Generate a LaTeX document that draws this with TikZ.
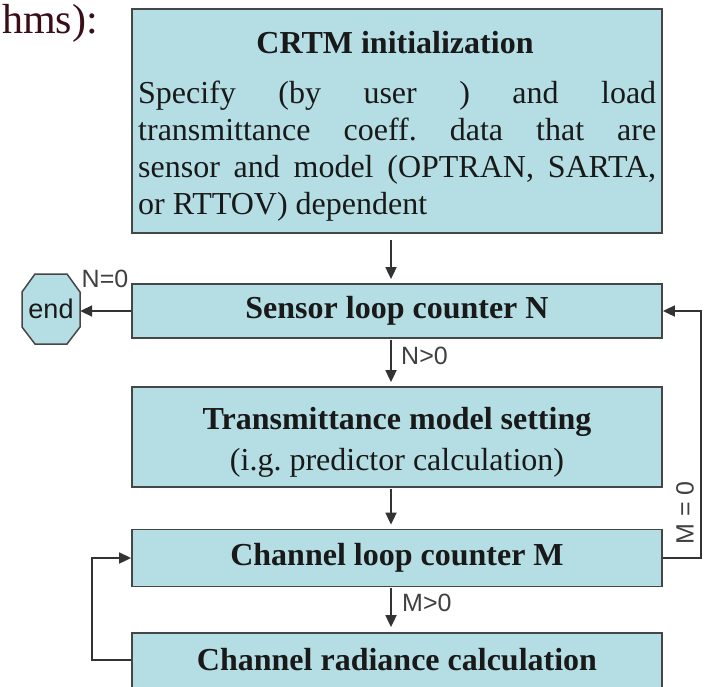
\documentclass[tikz,border=0pt]{standalone}
\usepackage{fontspec}
\setmainfont{Liberation Serif}
\setsansfont{Liberation Sans}
\newfontfamily\timesfam{Liberation Serif}
\usetikzlibrary{arrows.meta}
\definecolor{boxfill}{RGB}{180,222,228}
\definecolor{boxline}{RGB}{70,70,70}
\definecolor{hmscol}{RGB}{58,14,24}
\frenchspacing
\begin{document}
\begin{tikzpicture}[x=1pt,y=-1pt,
  box/.style={draw=boxline, line width=1.8pt, fill=boxfill, inner sep=0pt, text=black!90},
  arr/.style={draw=black!80, line width=1.8pt, -{Triangle[length=12pt,width=11pt]}},
  lab/.style={font=\sffamily\fontsize{25}{25}\selectfont, text=black!75, inner sep=0pt},
  big/.style={font=\timesfam\bfseries\fontsize{32}{38}\selectfont},
  reg/.style={font=\timesfam\fontsize{32}{37}\selectfont}]
\useasboundingbox (0,0) rectangle (704,686);
\fill[white] (0,0) rectangle (704,686);

\node[anchor=base east, inner sep=0pt, text=hmscol, font=\timesfam\fontsize{42}{44}\selectfont] (hms) at (98,33) {hms):};

% CRTM initialization
\node[box, minimum width=530pt, minimum height=224pt] (init) at (397,121) {};
\node[anchor=base, inner sep=0pt, text=black!90, big] (title) at (395,53) {CRTM initialization};
\node[anchor=base west, inner sep=0pt, text width=518pt, align=justify, text=black!90, reg] (body) at (138,103) {Specify (by user ) and load\linebreak transmittance coeff. data that are\linebreak sensor and model (OPTRAN, SARTA,\linebreak or RTTOV) dependent};

% Sensor loop
\node[box, big, minimum width=530pt, minimum height=54pt] (sensor) at (397,311) {Sensor loop counter N};

% Transmittance
\node[box, minimum width=530pt, minimum height=100pt] (trans) at (397,437) {};
\node[anchor=base, inner sep=0pt, big, text=black!90] (t1) at (397,429) {Transmittance model setting};
\node[anchor=base, inner sep=0pt, text=black!90, reg] (t2) at (397,470) {(i.g. predictor calculation)};

% Channel loop
\node[box, big, minimum width=530pt, minimum height=57pt] (chan) at (397,558) {Channel loop counter M};

% Channel radiance
\node[box, minimum width=530pt, minimum height=66pt] (rad) at (397,666) {};
\node[inner sep=0pt, big, text=black!90] (r1) at (397,660) {Channel radiance calculation};

% end octagon
\draw[fill=boxfill, draw=boxline, line width=1.5pt] (35,274) -- (67,274) -- (80,292) -- (80,327) -- (67,344) -- (35,344) -- (22,327) -- (22,292) -- cycle;
\node[inner sep=0pt, minimum width=58pt, minimum height=70pt, text=black!90, font=\sffamily\fontsize{27}{27}\selectfont] (endn) at (51,309) {end};

% labels
\node[lab] (n0) at (105,279) {N=0};
\node[lab, anchor=west] (ngt) at (401,356) {N>0};
\node[lab, anchor=west] (mgt) at (402,603) {M>0};
\node[lab, rotate=90] (m0) at (685,513) {M = 0};

% connectors
\coordinate (ax) at (391,0);
\coordinate (lx) at (92,0);
\coordinate (rx) at (701,0);
\draw[arr, shorten <=6pt, shorten >=4pt] (init.south -| ax) -- (sensor.north -| ax);
\draw[arr, shorten <=1pt, shorten >=4pt] (sensor.south -| ax) -- (trans.north -| ax);
\draw[arr, shorten <=1pt, shorten >=4pt] (trans.south -| ax) -- (chan.north -| ax);
\draw[arr, shorten <=1pt, shorten >=5pt] (chan.south -| ax) -- (rad.north -| ax);
\draw[arr] (sensor.west) -- (sensor.west -| endn.east);
\draw[arr] (chan.east) -- (rx |- chan) -- (rx |- sensor) -- (sensor.east);
\draw[arr] (rad.west |- r1) -- (lx |- r1) -- (lx |- chan) -- (chan.west);
\end{tikzpicture}
\end{document}
